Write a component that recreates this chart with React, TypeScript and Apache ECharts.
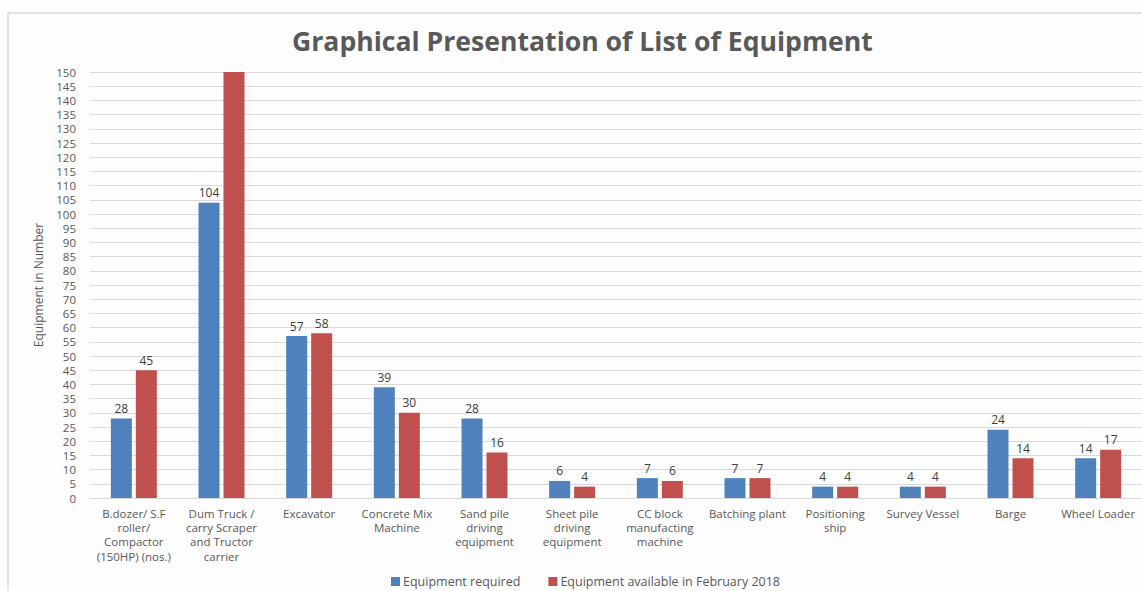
import React, { useEffect, useRef } from "react";
import * as echarts from "echarts";

const categories = [
  "B.dozer/ S.F\nroller/\nCompactor\n(150HP) (nos.)",
  "Dum Truck /\ncarry Scraper\nand Tructor\ncarrier",
  "Excavator",
  "Concrete Mix\nMachine",
  "Sand pile\ndriving\nequipment",
  "Sheet pile\ndriving\nequipment",
  "CC block\nmanufacting\nmachine",
  "Batching plant",
  "Positioning\nship",
  "Survey Vessel",
  "Barge",
  "Wheel Loader",
];
const required = [28, 104, 57, 39, 28, 6, 7, 7, 4, 4, 24, 14];
const available = [45, 160, 58, 30, 16, 4, 6, 7, 4, 4, 14, 17];
const yMax = 150;

export default function App() {
  const ref = useRef<HTMLDivElement>(null);
  useEffect(() => {
    if (!ref.current) return;
    const chart = echarts.init(ref.current, null, { renderer: "svg" });
    const font = "'Open Sans', 'Noto Sans', sans-serif";
    const labelStyle = {
      show: true,
      position: "top",
      fontFamily: font,
      fontSize: 12,
      color: "#404040",
      distance: 4,
    };
    chart.setOption({
      animation: false,
      backgroundColor: "#fdfdfd",
      textStyle: { fontFamily: font },
      title: {
        text: "Graphical Presentation of List of Equipment",
        left: 287,
        top: 22,
        textStyle: { fontFamily: font, fontSize: 26.6, fontWeight: "bold", color: "#595959" },
      },
      graphic: [
        {
          type: "polyline",
          shape: { points: [[8, 600], [8, 13], [1150, 13]] },
          style: { stroke: "#d9d9d9", fill: "none", lineWidth: 1.5 },
        },
      ],
      legend: {
        bottom: -2,
        left: 386,
        itemWidth: 9,
        itemHeight: 9,
        itemGap: 28,
        icon: "rect",
        textStyle: { fontFamily: font, fontSize: 12.5, color: "#595959", padding: [0, 0, 0, -2] },
        data: ["Equipment required", "Equipment available in February 2018"],
      },
      grid: { left: 90, right: 0, top: 72, bottom: 93, containLabel: false },
      xAxis: {
        type: "category",
        data: categories,
        axisLine: { lineStyle: { color: "#d9d9d9" } },
        axisTick: { show: false },
        axisLabel: {
          interval: 0,
          fontFamily: font,
          fontSize: 11.5,
          color: "#595959",
          lineHeight: 14.3,
          margin: 8,
        },
      },
      yAxis: {
        type: "value",
        min: 0,
        max: yMax,
        interval: 5,
        name: "Equipment in Number",
        nameLocation: "middle",
        nameGap: 46,
        nameTextStyle: { fontFamily: font, fontSize: 12, color: "#595959" },
        axisLine: { show: false },
        axisTick: { show: false },
        axisLabel: {
          fontFamily: font,
          fontSize: 11.5,
          lineHeight: 12,
          color: "#595959",
          margin: 14,
        },
        splitLine: { lineStyle: { color: "#d9d9d9" } },
      },
      series: [
        {
          name: "Equipment required",
          type: "bar",
          data: required,
          barWidth: 21,
          barGap: "19%",
          itemStyle: { color: "#4F81BD" },
          label: labelStyle,
        },
        {
          name: "Equipment available in February 2018",
          type: "bar",
          data: available.map((v) =>
            v > yMax ? { value: v, label: { show: false } } : v
          ),
          barWidth: 21,
          clip: true,
          itemStyle: { color: "#C0504D" },
          label: labelStyle,
        },
      ],
    });
    return () => chart.dispose();
  }, []);
  return (
    <div
      ref={ref}
      style={{ position: "fixed", left: 0, top: 0, width: 1142, height: 591 }}
    />
  );
}
